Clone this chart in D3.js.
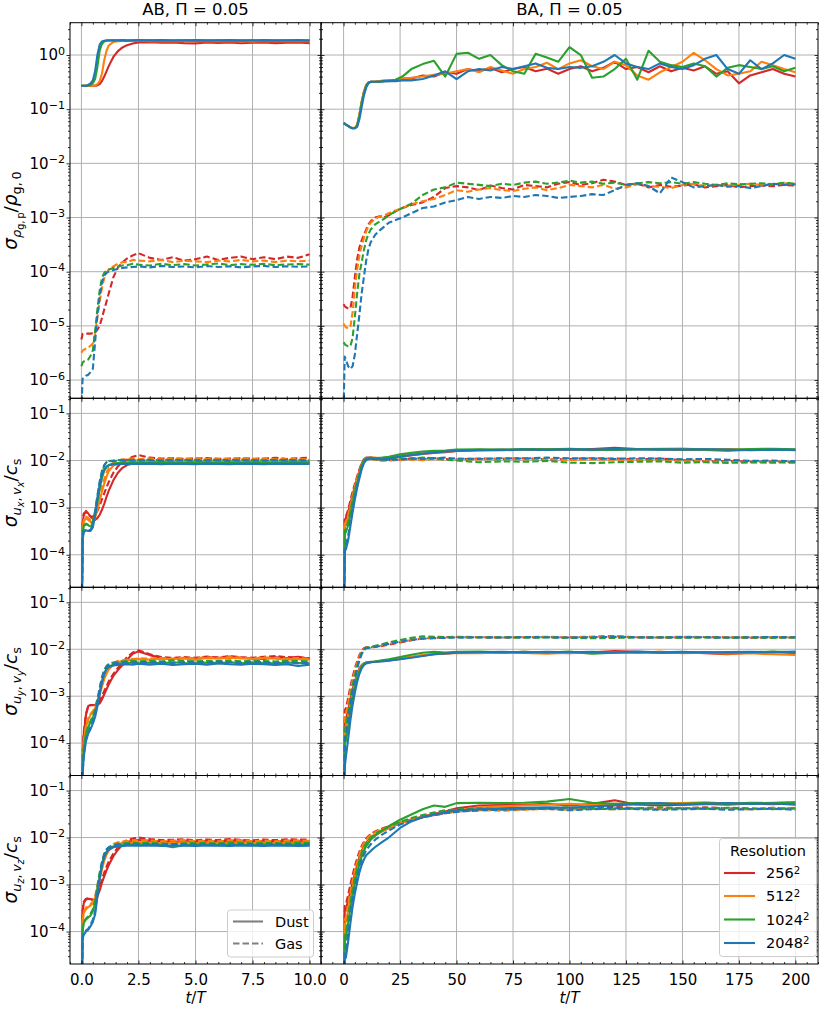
<!DOCTYPE html>
<html>
<head>
  <meta charset="UTF-8">
  <title>sigma-resolution</title>
  <script src="https://cdn.jsdelivr.net/npm/d3@7"></script>
  <style>
    body { margin: 0; background: #fff; }
    text { font-family: "DejaVu Sans", sans-serif; fill: #000; }
  </style>
</head>
<body>
<div id="chart"></div>
<script>
// resolutions and colours (256, 512, 1024, 2048)
const resolutions = ["256", "512", "1024", "2048"];
const colors = ["#d62728", "#ff7f0e", "#2ca02c", "#1f77b4"];
const titles = ["AB, ", "BA, "];
const xTicksAB = [0, 2.5, 5, 7.5, 10];
const xTicksBA = [0, 25, 50, 75, 100, 125, 150, 175, 200];
const yTicksRho = [1, 1e-1, 1e-2, 1e-3, 1e-4, 1e-5, 1e-6];
const yTicksVel = [1e-1, 1e-2, 1e-3, 1e-4];

// time samples
const tAB = [0, 0.05, 0.1, 0.2, 0.3, 0.4, 0.5, 0.6, 0.7, 0.8, 0.9, 1.0, 1.1, 1.2, 1.4, 1.6, 1.8, 2.0, 2.25, 2.5, 3, 3.5, 4, 4.5, 5, 5.5, 6, 6.5, 7, 7.5, 8, 8.5, 9, 9.5, 10];
const tBArho = [0, 0.5, 1, 2, 3, 4, 5, 6, 7, 8, 9, 10, 11, 12, 14, 16, 18, 20, 23, 26, 30, 35, 40, 45, 50, 55, 60, 65, 70, 75, 80, 85, 90, 95, 100, 105, 110, 115, 120, 125, 130, 135, 140, 145, 150, 155, 160, 165, 170, 175, 180, 185, 190, 195, 200];
const tBAvel = [0, 0.5, 1, 2, 3, 4, 5, 6, 7, 8, 9, 10, 12, 14, 17, 20, 25, 30, 35, 40, 45, 50, 60, 70, 80, 90, 100, 110, 120, 130, 140, 150, 160, 170, 180, 190, 200];

// AB, density
const abRhoDust = [
  [0.27,0.27,0.27,0.27,0.27,0.27,0.27,0.27,0.275,0.29,0.33,0.40, 0.50,0.63,0.92,1.18,1.38,1.52,1.63,1.70, 1.72,1.68,1.70,1.66,1.64,1.70,1.67,1.70,1.65,1.69,1.71,1.66,1.68,1.70,1.66],
  [0.27,0.27,0.27,0.27,0.27,0.27,0.27,0.275,0.29,0.33,0.45,0.80, 1.20,1.50,1.75,1.80,1.82,1.82,1.81,1.83, 1.80,1.82,1.79,1.81,1.80,1.82,1.79,1.81,1.80,1.78,1.81,1.80,1.82,1.79,1.80],
  [0.27,0.27,0.27,0.27,0.275,0.28,0.30,0.36,0.60,1.20,1.60,1.78, 1.83,1.85,1.86,1.85,1.86,1.84,1.86,1.85, 1.86,1.84,1.85,1.86,1.84,1.85,1.86,1.84,1.85,1.86,1.84,1.85,1.86,1.85,1.84],
  [0.27,0.27,0.27,0.27,0.28,0.30,0.34,0.50,1.00,1.55,1.78,1.84, 1.86,1.87,1.86,1.87,1.88,1.86,1.87,1.88, 1.87,1.89,1.86,1.87,1.88,1.86,1.87,1.88,1.86,1.87,1.88,1.86,1.87,1.88,1.87]
];
const abRhoGas = [
  [5.6e-6,7.1e-6,7.2e-6,7.2e-6,7.2e-6,7.2e-6,7.3e-6,7.5e-6,8.5e-6,1.0e-5,1.4e-5,2.0e-5, 2.8e-5,4.0e-5,7.9e-5,1.2e-4,1.5e-4,1.75e-4,2.0e-4,2.2e-4, 1.8e-4,1.65e-4,1.85e-4,1.6e-4,1.7e-4,1.9e-4,1.65e-4,1.8e-4,1.9e-4,1.7e-4,1.85e-4,1.7e-4,1.9e-4,1.8e-4,2.1e-4],
  [3.2e-6,3.5e-6,3.6e-6,3.8e-6,4.0e-6,4.3e-6,4.7e-6,7e-6,1.4e-5,2.8e-5,5e-5,7.6e-5, 9.5e-5,1.1e-4,1.25e-4,1.4e-4,1.5e-4,1.5e-4,1.65e-4,1.6e-4, 1.55e-4,1.65e-4,1.5e-4,1.6e-4,1.55e-4,1.5e-4,1.6e-4,1.55e-4,1.65e-4,1.55e-4,1.6e-4,1.5e-4,1.6e-4,1.55e-4,1.6e-4],
  [1.8e-6,2.1e-6,2.2e-6,2.3e-6,2.4e-6,2.8e-6,3.5e-6,8e-6,2e-5,4.5e-5,7.6e-5,9.5e-5, 1.05e-4,1.1e-4,1.17e-4,1.25e-4,1.3e-4,1.32e-4,1.4e-4,1.35e-4, 1.3e-4,1.4e-4,1.32e-4,1.38e-4,1.3e-4,1.36e-4,1.42e-4,1.32e-4,1.38e-4,1.34e-4,1.4e-4,1.32e-4,1.36e-4,1.38e-4,1.35e-4],
  [2.5e-7,1.05e-6,1.1e-6,1.2e-6,1.25e-6,1.4e-6,1.6e-6,5e-6,1.6e-5,3.5e-5,6.3e-5,8.5e-5, 9.5e-5,1.0e-4,1.07e-4,1.12e-4,1.17e-4,1.2e-4,1.22e-4,1.25e-4, 1.2e-4,1.28e-4,1.22e-4,1.25e-4,1.2e-4,1.27e-4,1.22e-4,1.26e-4,1.2e-4,1.25e-4,1.28e-4,1.22e-4,1.26e-4,1.23e-4,1.25e-4]
];

// AB, u_x / v_x
const abUxDust = [
  [1e-6,4e-4,7e-4,8.5e-4,7.5e-4,6.5e-4,5.8e-4,5.5e-4,6e-4,7e-4,9e-4,1.2e-3, 1.7e-3,2.3e-3,3.8e-3,5.5e-3,7e-3,8e-3,8.6e-3,9e-3, 9e-3,9.2e-3,8.9e-3,9.1e-3,9e-3,9.2e-3,8.9e-3,9.1e-3,9e-3,8.8e-3,9.1e-3,9e-3,9.2e-3,8.9e-3,9.2e-3],
  [1e-6,3e-4,5e-4,6e-4,5.5e-4,5e-4,5e-4,6e-4,9e-4,1.4e-3,2.2e-3,3.2e-3, 4.5e-3,6e-3,7.8e-3,8.6e-3,9e-3,9.2e-3,9.3e-3,9.2e-3, 9.3e-3,9.1e-3,9.4e-3,9.2e-3,9.3e-3,9.1e-3,9.3e-3,9.4e-3,9.2e-3,9.3e-3,9.1e-3,9.3e-3,9.2e-3,9.4e-3,9.2e-3],
  [1e-6,2.5e-4,4e-4,4.5e-4,4.2e-4,4e-4,4.5e-4,7e-4,1.3e-3,2.5e-3,4.2e-3,6e-3, 7.3e-3,8e-3,8.6e-3,8.8e-3,8.9e-3,8.8e-3,9e-3,8.9e-3, 8.8e-3,9e-3,8.9e-3,8.8e-3,9e-3,8.9e-3,8.8e-3,9e-3,8.9e-3,9.1e-3,8.9e-3,8.8e-3,9e-3,8.9e-3,9e-3],
  [1e-6,2e-4,3e-4,3.3e-4,3.2e-4,3.2e-4,3.8e-4,7e-4,1.5e-3,3e-3,5e-3,6.5e-3, 7.4e-3,7.9e-3,8.2e-3,8.4e-3,8.5e-3,8.5e-3,8.6e-3,8.5e-3, 8.6e-3,8.4e-3,8.6e-3,8.5e-3,8.4e-3,8.6e-3,8.5e-3,8.4e-3,8.6e-3,8.5e-3,8.4e-3,8.6e-3,8.5e-3,8.6e-3,8.5e-3]
];
const abUxGas = [
  [1e-6,4.5e-4,7.5e-4,8e-4,7e-4,6.5e-4,6.5e-4,7e-4,8.5e-4,1.1e-3,1.5e-3,2e-3, 2.7e-3,3.5e-3,5.5e-3,7.5e-3,9e-3,1.05e-2,1.2e-2,1.3e-2, 1.15e-2,1.1e-2,1.12e-2,1.08e-2,1.1e-2,1.13e-2,1.08e-2,1.1e-2,1.12e-2,1.09e-2,1.1e-2,1.14e-2,1.08e-2,1.12e-2,1.15e-2],
  [1e-6,3.5e-4,5.5e-4,6.5e-4,6e-4,5.5e-4,5.5e-4,7e-4,1.1e-3,1.8e-3,2.8e-3,4e-3, 5.5e-3,7e-3,9e-3,1.0e-2,1.05e-2,1.08e-2,1.1e-2,1.08e-2, 1.1e-2,1.06e-2,1.1e-2,1.08e-2,1.12e-2,1.07e-2,1.1e-2,1.08e-2,1.11e-2,1.07e-2,1.1e-2,1.08e-2,1.06e-2,1.09e-2,1.05e-2],
  [1e-6,2.8e-4,4.2e-4,4.6e-4,4.3e-4,4.2e-4,5e-4,8.5e-4,1.7e-3,3.2e-3,5.5e-3,7.8e-3, 9.2e-3,9.8e-3,1.0e-2,1.02e-2,1.03e-2,1.02e-2,1.04e-2,1.02e-2, 1.03e-2,1.01e-2,1.04e-2,1.02e-2,1.03e-2,1.01e-2,1.03e-2,1.02e-2,1.04e-2,1.02e-2,1.01e-2,1.03e-2,1.02e-2,1.01e-2,1.0e-2],
  [1e-6,2.2e-4,3.2e-4,3.4e-4,3.3e-4,3.4e-4,4.2e-4,8e-4,1.8e-3,3.6e-3,6e-3,8e-3, 9.2e-3,9.6e-3,9.8e-3,9.9e-3,1.0e-2,1.0e-2,1.01e-2,1.0e-2, 1.01e-2,9.9e-3,1.01e-2,1.0e-2,9.9e-3,1.01e-2,1.0e-2,9.9e-3,1.01e-2,1.0e-2,9.9e-3,1.01e-2,1.0e-2,1.01e-2,1.0e-2]
];

// AB, u_y / v_y
const abUyDust = [
  [1e-6,5e-5,1.5e-4,4e-4,6.2e-4,6.5e-4,6.5e-4,6.5e-4,6.5e-4,7e-4,8.5e-4,1.1e-3, 1.4e-3,1.8e-3,2.7e-3,3.6e-3,4.6e-3,6e-3,8e-3,9e-3, 7.5e-3,6.5e-3,6.2e-3,6.5e-3,6.3e-3,6.8e-3,6.5e-3,7e-3,6.6e-3,6.4e-3,6.2e-3,6.7e-3,6.5e-3,6.9e-3,6.3e-3],
  [1e-6,4e-5,1e-4,2.2e-4,3.2e-4,4e-4,4.6e-4,5.5e-4,7.5e-4,1.1e-3,1.6e-3,2.3e-3, 3e-3,3.7e-3,4.7e-3,5.3e-3,5.6e-3,5.8e-3,6e-3,6.2e-3, 6e-3,6.3e-3,6.1e-3,6.4e-3,6e-3,6.5e-3,6.3e-3,6.6e-3,6.4e-3,6.2e-3,6.5e-3,6.3e-3,6e-3,6.2e-3,6e-3],
  [1e-6,3e-5,7e-5,1.5e-4,2.2e-4,2.8e-4,3.5e-4,4.6e-4,7e-4,1.2e-3,2e-3,3e-3, 3.8e-3,4.3e-3,4.7e-3,4.9e-3,5e-3,5.1e-3,5.2e-3,5.0e-3, 5.2e-3,5.0e-3,5.3e-3,5.1e-3,5.0e-3,5.2e-3,5.1e-3,5.3e-3,5.0e-3,5.2e-3,5.1e-3,5.0e-3,5.2e-3,5.1e-3,5.0e-3],
  [1e-6,2e-5,5e-5,1.1e-4,1.6e-4,2e-4,2.6e-4,3.6e-4,6e-4,1.1e-3,2e-3,3e-3, 3.8e-3,4.2e-3,4.5e-3,4.6e-3,4.7e-3,4.8e-3,4.7e-3,4.9e-3, 4.7e-3,4.9e-3,4.6e-3,4.8e-3,4.9e-3,4.7e-3,5.0e-3,4.8e-3,4.7e-3,4.9e-3,4.8e-3,4.6e-3,4.8e-3,4.4e-3,4.7e-3]
];
const abUyGas = [
  [1e-6,6e-5,1.7e-4,4.2e-4,6.2e-4,6.4e-4,6.4e-4,6.5e-4,7e-4,8e-4,1e-3,1.3e-3, 1.6e-3,2.1e-3,3e-3,4e-3,5.2e-3,6.8e-3,8.5e-3,9.5e-3, 7.8e-3,6.8e-3,6.5e-3,6.8e-3,6.6e-3,7e-3,6.7e-3,7.1e-3,6.8e-3,6.6e-3,6.9e-3,7.2e-3,6.8e-3,6.6e-3,6.5e-3],
  [1e-6,4.5e-5,1.1e-4,2.4e-4,3.4e-4,4.2e-4,4.8e-4,6e-4,8.5e-4,1.3e-3,1.9e-3,2.7e-3, 3.5e-3,4.2e-3,5.1e-3,5.6e-3,5.8e-3,6e-3,6.2e-3,6.4e-3, 6.3e-3,6.5e-3,6.3e-3,6.6e-3,6.4e-3,6.7e-3,6.5e-3,6.8e-3,6.6e-3,6.4e-3,6.7e-3,6.5e-3,6.3e-3,6.5e-3,6.2e-3],
  [1e-6,3.5e-5,8e-5,1.6e-4,2.4e-4,3e-4,3.8e-4,5.2e-4,8.5e-4,1.5e-3,2.5e-3,3.6e-3, 4.4e-3,4.9e-3,5.2e-3,5.4e-3,5.5e-3,5.6e-3,5.7e-3,5.5e-3, 5.7e-3,5.5e-3,5.8e-3,5.6e-3,5.5e-3,5.7e-3,5.6e-3,5.8e-3,5.5e-3,5.7e-3,5.6e-3,5.5e-3,5.7e-3,5.6e-3,5.5e-3],
  [1e-6,2.2e-5,5.5e-5,1.2e-4,1.7e-4,2.2e-4,2.9e-4,4.2e-4,7.5e-4,1.4e-3,2.5e-3,3.5e-3, 4.3e-3,4.7e-3,5e-3,5.1e-3,5.2e-3,5.3e-3,5.2e-3,5.4e-3, 5.2e-3,5.4e-3,5.1e-3,5.3e-3,5.4e-3,5.2e-3,5.5e-3,5.3e-3,5.2e-3,5.4e-3,5.3e-3,5.1e-3,5.3e-3,5.0e-3,5.2e-3]
];

// AB, u_z / v_z
const abUzDust = [
  [1e-6,2.5e-4,4e-4,4.8e-4,5e-4,4.9e-4,4.6e-4,4.5e-4,5.5e-4,7.5e-4,1.1e-3,1.5e-3, 2e-3,2.6e-3,4e-3,5.5e-3,7e-3,8e-3,8.5e-3,8.8e-3, 8.5e-3,8.2e-3,8e-3,8.4e-3,8.1e-3,8.5e-3,8.2e-3,8.6e-3,8.3e-3,8.1e-3,8.4e-3,8.2e-3,8.5e-3,8.3e-3,8.3e-3],
  [1e-6,1.5e-4,2.5e-4,3e-4,3.3e-4,3.6e-4,4e-4,5e-4,8e-4,1.3e-3,2.1e-3,3.2e-3, 4.3e-3,5.3e-3,6.6e-3,7.2e-3,7.5e-3,7.6e-3,7.8e-3,7.6e-3, 7.8e-3,7.5e-3,7.7e-3,7.9e-3,7.6e-3,7.8e-3,7.5e-3,7.7e-3,7.9e-3,7.6e-3,7.8e-3,7.5e-3,7.7e-3,7.8e-3,7.6e-3],
  [1e-6,1e-4,1.5e-4,1.8e-4,2e-4,2.2e-4,2.7e-4,4e-4,8e-4,1.5e-3,2.6e-3,3.8e-3, 4.8e-3,5.5e-3,6.3e-3,6.7e-3,6.9e-3,7e-3,7.1e-3,7.0e-3, 7.1e-3,6.9e-3,6.2e-3,6.9e-3,7.1e-3,7.0e-3,6.9e-3,7.1e-3,7.0e-3,6.9e-3,7.1e-3,7.0e-3,6.9e-3,7.1e-3,7.0e-3],
  [1e-6,7e-5,8.5e-5,1e-4,1.1e-4,1.3e-4,1.6e-4,2.3e-4,5.5e-4,1.3e-3,2.6e-3,4e-3, 5e-3,5.6e-3,6.2e-3,6.5e-3,6.6e-3,6.7e-3,6.8e-3,6.7e-3, 6.8e-3,6.6e-3,6.8e-3,6.7e-3,6.6e-3,6.8e-3,6.7e-3,6.6e-3,6.8e-3,6.7e-3,6.6e-3,6.8e-3,6.7e-3,6.6e-3,6.7e-3]
];
const abUzGas = [
  [1e-6,2.8e-4,4.3e-4,5e-4,5.1e-4,5e-4,4.8e-4,4.8e-4,6e-4,8.5e-4,1.3e-3,1.8e-3, 2.4e-3,3.1e-3,4.6e-3,6.2e-3,7.8e-3,8.8e-3,9.5e-3,1.0e-2, 9.3e-3,8.8e-3,9e-3,9.2e-3,8.7e-3,9.1e-3,8.8e-3,9.3e-3,8.9e-3,8.7e-3,9.1e-3,8.8e-3,9.2e-3,9e-3,9.1e-3],
  [1e-6,1.7e-4,2.7e-4,3.2e-4,3.5e-4,3.8e-4,4.3e-4,5.6e-4,9.5e-4,1.6e-3,2.6e-3,3.8e-3, 5e-3,6e-3,7.3e-3,7.9e-3,8.2e-3,8.4e-3,8.6e-3,8.5e-3, 8.7e-3,8.3e-3,8.6e-3,8.8e-3,8.4e-3,8.6e-3,8.3e-3,8.7e-3,8.8e-3,8.4e-3,8.6e-3,8.3e-3,8.6e-3,8.7e-3,8.5e-3],
  [1e-6,1.1e-4,1.6e-4,1.9e-4,2.1e-4,2.4e-4,3e-4,4.6e-4,9.5e-4,1.8e-3,3e-3,4.4e-3, 5.5e-3,6.2e-3,7e-3,7.4e-3,7.5e-3,7.6e-3,7.7e-3,7.6e-3, 7.7e-3,7.5e-3,7.2e-3,7.5e-3,7.7e-3,7.6e-3,7.5e-3,7.7e-3,7.6e-3,7.5e-3,7.7e-3,7.6e-3,7.5e-3,7.7e-3,7.6e-3],
  [1e-6,7.5e-5,9e-5,1.05e-4,1.15e-4,1.4e-4,1.8e-4,2.7e-4,6.5e-4,1.5e-3,3e-3,4.5e-3, 5.6e-3,6.2e-3,6.8e-3,7e-3,7.1e-3,7.2e-3,7.3e-3,7.2e-3, 7.3e-3,7.1e-3,7.3e-3,7.2e-3,7.1e-3,7.3e-3,7.2e-3,7.1e-3,7.3e-3,7.2e-3,7.1e-3,7.3e-3,7.2e-3,7.1e-3,7.2e-3]
];

// BA, density
const baRhoDust = [
  [0.055,0.054,0.052,0.049,0.046,0.045,0.045,0.050,0.078,0.135,0.21,0.28,0.31,0.32,0.32,0.33,0.33,0.34,0.34,0.36,0.37, 0.42,0.40,0.48,0.45, 0.55,0.50,0.58,0.48,0.55,0.60,0.50,0.56,0.45,0.55,0.62,0.50,0.58,0.75,0.55,0.60,0.48,0.62,0.50,0.58,0.52,0.62,0.45,0.50,0.30,0.42,0.48,0.55,0.45,0.40],
  [0.055,0.054,0.052,0.049,0.046,0.045,0.045,0.051,0.080,0.14,0.21,0.28,0.31,0.32,0.32,0.33,0.34,0.34,0.35,0.37,0.38, 0.40,0.43,0.45,0.50, 0.55,0.48,0.60,0.52,0.45,0.55,0.60,0.72,0.55,0.70,0.80,0.62,0.55,0.75,0.65,0.42,0.35,0.48,0.60,0.75,1.10,0.80,0.55,0.42,0.45,0.50,0.75,0.65,0.55,0.48],
  [0.055,0.054,0.052,0.049,0.046,0.045,0.045,0.050,0.076,0.13,0.20,0.27,0.31,0.32,0.32,0.32,0.33,0.33,0.35,0.40,0.55, 0.68,0.78,0.40,1.05, 1.10,0.85,1.00,0.65,0.50,0.45,1.05,0.90,0.75,1.40,1.00,0.38,0.40,0.55,0.85,0.35,1.20,0.75,0.65,0.60,0.70,0.62,0.40,0.58,0.65,0.60,0.55,0.62,0.50,0.58],
  [0.055,0.054,0.052,0.049,0.046,0.044,0.044,0.047,0.065,0.11,0.18,0.25,0.30,0.32,0.32,0.32,0.33,0.33,0.33,0.34,0.34, 0.36,0.42,0.50,0.36, 0.50,0.55,0.52,0.60,0.55,0.62,0.70,0.58,0.55,0.60,0.58,0.62,0.75,1.00,0.70,0.60,0.55,0.70,0.60,0.55,0.65,0.85,1.00,0.55,0.45,0.80,0.55,0.70,1.00,0.85]
];
const baRhoGas = [
  [2.5e-5,2.3e-5,2.2e-5,2.1e-5,2.1e-5,3.5e-5,8e-5,1.7e-4,2.8e-4,3.8e-4,4.8e-4,6e-4,7.5e-4,8.5e-4,1.0e-3,1.05e-3,1.0e-3,1.1e-3,1.3e-3,1.5e-3,1.7e-3, 1.9e-3,2.4e-3,3.5e-3,3.8e-3, 3.6e-3,3.2e-3,3.9e-3,3.5e-3,3.3e-3,4.0e-3,3.8e-3,3.6e-3,4.2e-3,4.5e-3,4.0e-3,4.3e-3,5.0e-3,4.6e-3,4.0e-3,4.2e-3,3.6e-3,4.0e-3,3.7e-3,3.9e-3,4.1e-3,3.6e-3,3.8e-3,4.0e-3,3.6e-3,3.8e-3,3.9e-3,3.8e-3,4.0e-3,3.9e-3],
  [1.1e-5,1.0e-5,9.5e-6,9e-6,9.5e-6,1.8e-5,5e-5,1.1e-4,2.0e-4,3.0e-4,4.2e-4,5.5e-4,7e-4,8e-4,9.5e-4,1.05e-3,1.1e-3,1.2e-3,1.35e-3,1.5e-3,1.75e-3, 2.0e-3,2.2e-3,2.6e-3,3.2e-3, 3.0e-3,3.3e-3,3.5e-3,3.2e-3,3.1e-3,3.4e-3,3.6e-3,3.2e-3,3.5e-3,4.0e-3,3.8e-3,3.6e-3,4.0e-3,3.4e-3,3.6e-3,4.1e-3,3.8e-3,3.7e-3,3.5e-3,4.0e-3,4.2e-3,3.8e-3,4.0e-3,3.9e-3,4.0e-3,4.2e-3,4.0e-3,4.1e-3,4.3e-3,4.2e-3],
  [5e-6,4.6e-6,4.4e-6,4.2e-6,4.2e-6,6e-6,1.5e-5,4e-5,9e-5,1.5e-4,2.5e-4,3.8e-4,5e-4,6e-4,7.5e-4,8.5e-4,9.5e-4,1.1e-3,1.3e-3,1.5e-3,1.8e-3, 2.6e-3,3.3e-3,3.6e-3,4.4e-3, 4.2e-3,4.0e-3,3.8e-3,4.2e-3,4.0e-3,4.4e-3,4.6e-3,4.2e-3,4.4e-3,4.8e-3,4.4e-3,4.6e-3,4.2e-3,4.4e-3,4.0e-3,4.3e-3,4.5e-3,4.3e-3,4.5e-3,4.2e-3,4.5e-3,4.2e-3,4.0e-3,4.3e-3,4.1e-3,4.2e-3,4.3e-3,4.1e-3,4.4e-3,4.2e-3],
  [3e-7,2.7e-6,2.4e-6,1.8e-6,1.6e-6,1.8e-6,3e-6,7e-6,1.6e-5,4e-5,8e-5,1.6e-4,2.6e-4,3.5e-4,4.8e-4,5.8e-4,6.8e-4,8e-4,9e-4,1.0e-3,1.2e-3, 1.5e-3,1.6e-3,1.9e-3,2.1e-3, 2.4e-3,2.2e-3,2.4e-3,2.3e-3,2.5e-3,2.4e-3,2.6e-3,2.5e-3,2.3e-3,2.4e-3,2.5e-3,2.7e-3,2.6e-3,3.2e-3,4.0e-3,4.3e-3,3.8e-3,2.8e-3,5.5e-3,4.5e-3,3.6e-3,3.8e-3,4.0e-3,3.7e-3,3.8e-3,3.5e-3,3.8e-3,4.2e-3,4.0e-3,4.1e-3]
];

// BA, u_x / v_x
const baUxDust = [
  [1e-6,5.5e-4,6e-4,8e-4,1.2e-3,1.9e-3,2.8e-3,4.2e-3,6e-3,8.5e-3,1.05e-2,1.15e-2, 1.15e-2,1.1e-2,1.12e-2,1.1e-2,1.2e-2,1.3e-2,1.38e-2,1.45e-2,1.5e-2,1.6e-2, 1.68e-2,1.65e-2,1.7e-2,1.72e-2,1.68e-2,1.75e-2,1.85e-2,1.75e-2,1.72e-2,1.7e-2,1.68e-2,1.62e-2,1.7e-2,1.72e-2,1.65e-2],
  [1e-6,4e-4,4.5e-4,6e-4,9.5e-4,1.6e-3,2.5e-3,3.8e-3,5.6e-3,8e-3,1.0e-2,1.12e-2, 1.15e-2,1.15e-2,1.1e-2,1.15e-2,1.25e-2,1.32e-2,1.4e-2,1.5e-2,1.55e-2,1.6e-2, 1.65e-2,1.7e-2,1.68e-2,1.72e-2,1.7e-2,1.66e-2,1.72e-2,1.75e-2,1.78e-2,1.8e-2,1.7e-2,1.75e-2,1.68e-2,1.72e-2,1.7e-2],
  [1e-6,2.8e-4,3e-4,4.2e-4,7e-4,1.25e-3,2.1e-3,3.3e-3,5e-3,7.5e-3,9.8e-3,1.1e-2, 1.15e-2,1.12e-2,1.15e-2,1.2e-2,1.35e-2,1.45e-2,1.55e-2,1.6e-2,1.62e-2,1.7e-2, 1.72e-2,1.7e-2,1.75e-2,1.72e-2,1.78e-2,1.7e-2,1.68e-2,1.72e-2,1.75e-2,1.7e-2,1.72e-2,1.68e-2,1.75e-2,1.78e-2,1.72e-2],
  [1e-6,1.2e-4,1.3e-4,2e-4,4e-4,8e-4,1.5e-3,2.6e-3,4.2e-3,6.5e-3,8.8e-3,1.02e-2, 1.1e-2,1.08e-2,1.05e-2,1.1e-2,1.22e-2,1.3e-2,1.4e-2,1.48e-2,1.55e-2,1.6e-2, 1.65e-2,1.68e-2,1.7e-2,1.68e-2,1.72e-2,1.7e-2,1.75e-2,1.72e-2,1.7e-2,1.72e-2,1.74e-2,1.7e-2,1.65e-2,1.7e-2,1.68e-2]
];
const baUxGas = [
  [1e-6,6e-4,6.5e-4,9e-4,1.4e-3,2.2e-3,3.2e-3,4.6e-3,6.5e-3,8.8e-3,1.05e-2,1.12e-2, 1.1e-2,1.05e-2,1.0e-2,1.02e-2,1.05e-2,1.1e-2,1.12e-2,1.1e-2,1.08e-2,1.05e-2, 1.1e-2,1.08e-2,1.12e-2,1.05e-2,1.08e-2,1.12e-2,1.1e-2,1.06e-2,1.1e-2,1.02e-2,9.6e-3,9.8e-3,9.4e-3,9.5e-3,9.2e-3],
  [1e-6,4.5e-4,5e-4,7e-4,1.1e-3,1.8e-3,2.8e-3,4.2e-3,6e-3,8.3e-3,1.0e-2,1.1e-2, 1.08e-2,1.04e-2,1.0e-2,1.0e-2,1.02e-2,1.05e-2,1.02e-2,1.08e-2,1.05e-2,1.02e-2, 1.06e-2,1.1e-2,1.05e-2,1.08e-2,1.02e-2,1.06e-2,1.04e-2,1.02e-2,9.8e-3,1.0e-2,9.6e-3,9.5e-3,9.2e-3,9.4e-3,9.0e-3],
  [1e-6,3.2e-4,3.5e-4,5e-4,8.5e-4,1.45e-3,2.4e-3,3.7e-3,5.5e-3,8e-3,1.0e-2,1.12e-2, 1.1e-2,1.06e-2,1.05e-2,1.08e-2,1.1e-2,1.1e-2,1.15e-2,1.12e-2,1.05e-2,1.0e-2, 9.2e-3,9.6e-3,9.4e-3,9.8e-3,9.0e-3,8.8e-3,9.2e-3,9.4e-3,9.6e-3,9.0e-3,9.2e-3,8.9e-3,9.1e-3,9.0e-3,9.2e-3],
  [1e-6,1.5e-4,1.6e-4,2.5e-4,5e-4,9.5e-4,1.7e-3,2.9e-3,4.6e-3,7e-3,9.2e-3,1.05e-2, 1.1e-2,1.08e-2,1.05e-2,1.03e-2,1.05e-2,1.1e-2,1.08e-2,1.12e-2,1.15e-2,1.1e-2, 1.08e-2,1.12e-2,1.1e-2,1.15e-2,1.12e-2,1.1e-2,1.08e-2,1.12e-2,1.1e-2,1.06e-2,1.08e-2,1.04e-2,9.8e-3,1.0e-2,9.6e-3]
];

// BA, u_y / v_y
const baUyDust = [
  [1e-6,3e-4,3.2e-4,5e-4,8.5e-4,1.4e-3,2.1e-3,3e-3,3.9e-3,4.6e-3,5e-3,5.2e-3, 5.3e-3,5.4e-3,5.6e-3,5.8e-3,6.2e-3,6.8e-3,7.3e-3,7.8e-3,8e-3,8.4e-3, 8.6e-3,8.4e-3,8.8e-3,8.4e-3,8.2e-3,8.6e-3,9.2e-3,8.8e-3,8.5e-3,8.6e-3,8.2e-3,7.8e-3,8.4e-3,8.8e-3,8.2e-3],
  [1e-6,2e-4,2.2e-4,3.8e-4,7e-4,1.2e-3,1.9e-3,2.8e-3,3.7e-3,4.5e-3,5e-3,5.2e-3, 5.3e-3,5.5e-3,5.7e-3,5.9e-3,6.3e-3,6.9e-3,7.5e-3,7.9e-3,8.1e-3,8.3e-3, 8.2e-3,8.5e-3,8.3e-3,8.0e-3,8.4e-3,8.2e-3,8.6e-3,8.3e-3,8.9e-3,8.2e-3,8.4e-3,8.0e-3,8.2e-3,7.8e-3,7.6e-3],
  [1e-6,1e-4,1.1e-4,2.2e-4,4.8e-4,9.5e-4,1.6e-3,2.5e-3,3.4e-3,4.3e-3,4.9e-3,5.2e-3, 5.4e-3,5.5e-3,5.8e-3,6.1e-3,6.8e-3,7.6e-3,8.4e-3,8.8e-3,8.5e-3,8.8e-3, 8.9e-3,8.6e-3,8.8e-3,8.5e-3,8.9e-3,8.0e-3,8.4e-3,8.6e-3,8.3e-3,8.5e-3,8.7e-3,8.4e-3,8.6e-3,8.9e-3,8.6e-3],
  [1e-6,3e-5,5e-5,1.2e-4,3e-4,6.5e-4,1.2e-3,2e-3,3e-3,3.9e-3,4.6e-3,5e-3, 5.3e-3,5.4e-3,5.5e-3,5.7e-3,6.1e-3,6.6e-3,7.2e-3,7.8e-3,8.1e-3,8.4e-3, 8.6e-3,8.8e-3,8.5e-3,8.8e-3,8.6e-3,8.8e-3,8.5e-3,8.9e-3,8.6e-3,8.8e-3,8.5e-3,8.7e-3,8.8e-3,8.6e-3,8.9e-3]
];
const baUyGas = [
  [1e-6,5e-4,5.5e-4,9e-4,1.6e-3,2.6e-3,3.9e-3,5.5e-3,7.5e-3,9.2e-3,1.05e-2,1.1e-2, 1.1e-2,1.12e-2,1.18e-2,1.25e-2,1.4e-2,1.55e-2,1.7e-2,1.75e-2,1.8e-2,1.82e-2, 1.8e-2,1.78e-2,1.8e-2,1.82e-2,1.8e-2,1.85e-2,1.9e-2,1.8e-2,1.78e-2,1.8e-2,1.82e-2,1.8e-2,1.76e-2,1.8e-2,1.78e-2],
  [1e-6,3.5e-4,4e-4,7e-4,1.3e-3,2.2e-3,3.4e-3,5e-3,7e-3,8.8e-3,1.02e-2,1.08e-2, 1.1e-2,1.15e-2,1.22e-2,1.3e-2,1.45e-2,1.6e-2,1.72e-2,1.8e-2,1.82e-2,1.85e-2, 1.82e-2,1.8e-2,1.82e-2,1.85e-2,1.8e-2,1.82e-2,1.78e-2,1.82e-2,1.8e-2,1.85e-2,1.82e-2,1.8e-2,1.78e-2,1.8e-2,1.82e-2],
  [1e-6,2e-4,2.3e-4,4.5e-4,9e-4,1.7e-3,2.8e-3,4.4e-3,6.4e-3,8.4e-3,1.0e-2,1.08e-2, 1.12e-2,1.18e-2,1.28e-2,1.4e-2,1.58e-2,1.75e-2,1.88e-2,1.85e-2,1.82e-2,1.8e-2, 1.78e-2,1.8e-2,1.76e-2,1.78e-2,1.75e-2,1.72e-2,1.75e-2,1.78e-2,1.8e-2,1.75e-2,1.78e-2,1.76e-2,1.78e-2,1.75e-2,1.78e-2],
  [1e-6,1.2e-4,1.5e-4,3e-4,6.5e-4,1.3e-3,2.3e-3,3.8e-3,5.8e-3,7.8e-3,9.5e-3,1.05e-2, 1.08e-2,1.12e-2,1.2e-2,1.3e-2,1.45e-2,1.58e-2,1.68e-2,1.72e-2,1.75e-2,1.78e-2, 1.8e-2,1.78e-2,1.82e-2,1.8e-2,1.78e-2,1.8e-2,1.84e-2,1.8e-2,1.78e-2,1.82e-2,1.8e-2,1.78e-2,1.8e-2,1.82e-2,1.8e-2]
];

// BA, u_z / v_z
const baUzDust = [
  [1e-6,2.8e-4,3e-4,4.5e-4,7e-4,1.1e-3,1.7e-3,2.6e-3,3.8e-3,5.2e-3,6.5e-3,7.8e-3, 1.0e-2,1.15e-2,1.35e-2,1.6e-2,2.0e-2,2.4e-2,2.8e-2,3.2e-2,3.6e-2,4.2e-2, 4.8e-2,4.9e-2,5.0e-2,5.2e-2,4.8e-2,5.2e-2,6.2e-2,5.0e-2,4.8e-2,5.0e-2,5.2e-2,5.0e-2,5.3e-2,5.1e-2,5.3e-2],
  [1e-6,1.4e-4,1.6e-4,2.8e-4,5e-4,8.5e-4,1.4e-3,2.2e-3,3.3e-3,4.6e-3,6e-3,7.3e-3, 9.5e-3,1.12e-2,1.35e-2,1.6e-2,2.0e-2,2.4e-2,2.7e-2,3.1e-2,3.4e-2,3.8e-2, 4.4e-2,4.6e-2,4.8e-2,5.0e-2,5.2e-2,5.0e-2,5.2e-2,5.0e-2,5.3e-2,5.4e-2,5.6e-2,5.3e-2,5.4e-2,5.5e-2,5.6e-2],
  [1e-6,6e-5,7e-5,1.5e-4,3.2e-4,6e-4,1.05e-3,1.7e-3,2.7e-3,3.9e-3,5.2e-3,6.5e-3, 9e-3,1.1e-2,1.4e-2,1.75e-2,2.4e-2,3.1e-2,4.0e-2,4.8e-2,4.5e-2,5.4e-2, 5.5e-2,5.4e-2,5.5e-2,5.8e-2,6.6e-2,5.5e-2,5.2e-2,5.4e-2,5.3e-2,5.2e-2,5.4e-2,5.2e-2,5.5e-2,5.4e-2,5.6e-2],
  [1e-6,2.6e-5,2.8e-5,6e-5,1.5e-4,3.4e-4,6.5e-4,1.1e-3,1.8e-3,2.6e-3,3.4e-3,4.2e-3, 5.2e-3,6.3e-3,8e-3,1.0e-2,1.6e-2,2.2e-2,2.7e-2,3.1e-2,3.4e-2,3.8e-2, 4.0e-2,4.2e-2,4.3e-2,4.4e-2,4.3e-2,4.6e-2,4.8e-2,5.2e-2,5.4e-2,5.0e-2,5.2e-2,5.4e-2,5.2e-2,5.3e-2,5.0e-2]
];
const baUzGas = [
  [1e-6,3.5e-4,3.8e-4,6e-4,1e-3,1.6e-3,2.5e-3,3.6e-3,5e-3,6.6e-3,8.2e-3,9.5e-3, 1.2e-2,1.35e-2,1.55e-2,1.75e-2,2.1e-2,2.4e-2,2.7e-2,3.0e-2,3.3e-2,3.6e-2, 3.8e-2,4.0e-2,4.2e-2,4.0e-2,4.1e-2,4.3e-2,4.5e-2,4.2e-2,4.0e-2,4.2e-2,4.4e-2,4.2e-2,4.0e-2,4.3e-2,4.1e-2],
  [1e-6,1.8e-4,2e-4,3.8e-4,7e-4,1.2e-3,2e-3,3e-3,4.4e-3,6e-3,7.6e-3,9e-3, 1.15e-2,1.3e-2,1.5e-2,1.72e-2,2.1e-2,2.45e-2,2.8e-2,3.1e-2,3.4e-2,3.6e-2, 3.9e-2,3.7e-2,3.9e-2,4.1e-2,3.9e-2,4.1e-2,4.0e-2,4.2e-2,4.1e-2,4.3e-2,4.1e-2,4.2e-2,4.0e-2,4.2e-2,4.3e-2],
  [1e-6,8e-5,9e-5,2e-4,4.2e-4,8e-4,1.4e-3,2.2e-3,3.3e-3,4.7e-3,6.2e-3,7.6e-3, 1.0e-2,1.2e-2,1.45e-2,1.7e-2,2.15e-2,2.6e-2,3.0e-2,3.4e-2,3.8e-2,4.0e-2, 4.2e-2,4.0e-2,4.1e-2,4.2e-2,4.4e-2,4.1e-2,4.0e-2,4.2e-2,4.4e-2,4.2e-2,4.1e-2,4.3e-2,4.2e-2,4.0e-2,4.2e-2],
  [1e-6,3.5e-5,4e-5,9e-5,2.2e-4,4.8e-4,9e-4,1.5e-3,2.3e-3,3.3e-3,4.3e-3,5.4e-3, 7.2e-3,9e-3,1.15e-2,1.4e-2,1.9e-2,2.3e-2,2.7e-2,3.0e-2,3.3e-2,3.5e-2, 3.8e-2,3.9e-2,4.0e-2,4.1e-2,3.8e-2,4.0e-2,4.2e-2,4.0e-2,3.9e-2,4.0e-2,4.1e-2,3.9e-2,4.0e-2,4.1e-2,3.9e-2]
];

// ---------------------------------------------------------------
const width = 830, height = 1009;
const cols = [[70, 321], [321, 818]];
const rowEdges = [22.7, 398.3, 587.3, 775.5, 964];
const xDomains = [[-0.5, 10.5], [-10, 210]];
const yDomains = [[4.6e-7, 3.95], [2.04e-5, 0.209], [2.04e-5, 0.209], [2.04e-5, 0.209]];
const tickFont = 15, labelFont = 18.5, legendFont = 14.5;
const lineW = 2.1, dash = "6.5,3";

const panels = [
  { row: 0, col: 0, t: tAB, dust: abRhoDust, gas: abRhoGas },
  { row: 1, col: 0, t: tAB, dust: abUxDust, gas: abUxGas },
  { row: 2, col: 0, t: tAB, dust: abUyDust, gas: abUyGas },
  { row: 3, col: 0, t: tAB, dust: abUzDust, gas: abUzGas },
  { row: 0, col: 1, t: tBArho, dust: baRhoDust, gas: baRhoGas },
  { row: 1, col: 1, t: tBAvel, dust: baUxDust, gas: baUxGas },
  { row: 2, col: 1, t: tBAvel, dust: baUyDust, gas: baUyGas },
  { row: 3, col: 1, t: tBAvel, dust: baUzDust, gas: baUzGas }
];

// y labels: [text, style, level]
const yLabels = [
  [["σ","i",0],["ρ","i",1],["g,\u2009p","n",2],["/","n",0],["ρ","i",0],["g,\u20090","n",1]],
  [["σ","i",0],["u","i",1],["x","i",2],[",\u2009","n",1],["v","i",1],["x","i",2],["/","n",0],["c","i",0],["s","n",1]],
  [["σ","i",0],["u","i",1],["y","i",2],[",\u2009","n",1],["v","i",1],["y","i",2],["/","n",0],["c","i",0],["s","n",1]],
  [["σ","i",0],["u","i",1],["z","i",2],[",\u2009","n",1],["v","i",1],["z","i",2],["/","n",0],["c","i",0],["s","n",1]]
];

const svg = d3.select("#chart").append("svg")
  .attr("width", width)
  .attr("height", height)
  .style("background", "#fff");

function styleAxis(sel) {
  sel.select(".domain").remove();
  sel.attr("font-family", '"DejaVu Sans", sans-serif').attr("font-size", tickFont);
  sel.selectAll(".tick line").attr("stroke", "#000").attr("stroke-width", 0.8);
}

function logMinor(domain) {
  const out = [];
  const lo = Math.floor(Math.log10(domain[0])), hi = Math.ceil(Math.log10(domain[1]));
  for (let d = lo; d <= hi; d++) {
    for (let k = 2; k <= 9; k++) {
      const v = k * Math.pow(10, d);
      if (v >= domain[0] && v <= domain[1]) out.push(v);
    }
  }
  return out;
}

function powLabel(d) {
  const e = Math.round(Math.log10(d));
  const t = d3.select(this).text(null);
  t.append("tspan").text("10");
  t.append("tspan").attr("dy", "-0.5em").attr("font-size", "0.74em")
    .text(e < 0 ? "\u2212" + (-e) : String(e));
}

function mathText(parent, parts, size) {
  const sizes = [size, size * 0.7, size * 0.52];
  const shifts = [0, size * 0.24, size * 0.4];
  let cur = 0;
  parts.forEach(([s, style, lvl]) => {
    parent.append("tspan")
      .attr("dy", shifts[lvl] - cur)
      .attr("font-size", sizes[lvl])
      .attr("font-style", style === "i" ? "italic" : "normal")
      .text(s);
    cur = shifts[lvl];
  });
}

panels.forEach((p, pi) => {
  const x = d3.scaleLinear().domain(xDomains[p.col]).range(cols[p.col]);
  const y = d3.scaleLog().domain(yDomains[p.row]).range([rowEdges[p.row + 1], rowEdges[p.row]]);
  const [x0, x1] = cols[p.col];
  const yTop = rowEdges[p.row], yBot = rowEdges[p.row + 1];
  const g = svg.append("g");

  const xMaj = p.col === 0 ? xTicksAB : xTicksBA;
  const yMaj = (p.row === 0 ? yTicksRho : yTicksVel).filter(v => v >= y.domain()[0] && v <= y.domain()[1]);

  // grid
  g.append("g").selectAll("line").data(xMaj).join("line")
    .attr("x1", d => x(d)).attr("x2", d => x(d)).attr("y1", yTop).attr("y2", yBot)
    .attr("stroke", "#b0b0b0").attr("stroke-width", 1);
  g.append("g").selectAll("line").data(yMaj).join("line")
    .attr("x1", x0).attr("x2", x1).attr("y1", d => y(d)).attr("y2", d => y(d))
    .attr("stroke", "#b0b0b0").attr("stroke-width", 1);

  // series
  const clipId = "clip" + pi;
  svg.append("clipPath").attr("id", clipId).append("rect")
    .attr("x", x0).attr("y", yTop).attr("width", x1 - x0).attr("height", yBot - yTop);
  const lines = g.append("g").attr("clip-path", `url(#${clipId})`);
  const line = d3.line()
    .defined((d, i) => i < p.t.length)
    .x((d, i) => x(p.t[i]))
    .y(d => y(d));
  resolutions.forEach((r, ri) => {
    lines.append("path").attr("d", line(p.dust[ri]))
      .attr("fill", "none").attr("stroke", colors[ri]).attr("stroke-width", lineW)
      .attr("stroke-linejoin", "round");
    lines.append("path").attr("d", line(p.gas[ri]))
      .attr("fill", "none").attr("stroke", colors[ri]).attr("stroke-width", lineW)
      .attr("stroke-dasharray", dash).attr("stroke-linejoin", "round");
  });

  // x axes (ticks inward on both sides)
  const xMin = (p.col === 0 ? d3.range(-0.5, 10.51, 0.5) : d3.range(-10, 210.1, 5))
    .filter(v => !xMaj.some(m => Math.abs(m - v) < 1e-9));
  const xFmt = p.row === 3 ? (p.col === 0 ? d3.format(".1f") : d3.format("d")) : () => "";
  g.append("g").attr("transform", `translate(0,${yBot})`)
    .call(d3.axisBottom(x).tickValues(xMaj).tickSize(-3.5).tickPadding(10).tickFormat(xFmt)).call(styleAxis);
  g.append("g").attr("transform", `translate(0,${yBot})`)
    .call(d3.axisBottom(x).tickValues(xMin).tickSize(-2).tickFormat("")).call(styleAxis);
  g.append("g").attr("transform", `translate(0,${yTop})`)
    .call(d3.axisTop(x).tickValues(xMaj).tickSize(-3.5).tickFormat("")).call(styleAxis);
  g.append("g").attr("transform", `translate(0,${yTop})`)
    .call(d3.axisTop(x).tickValues(xMin).tickSize(-2).tickFormat("")).call(styleAxis);

  // y axes
  const yMin = logMinor(y.domain());
  if (p.col === 0) {
    g.append("g").attr("transform", `translate(${x0},0)`)
      .call(d3.axisLeft(y).tickValues(yMaj).tickSize(3.5).tickPadding(1.5)).call(styleAxis)
      .selectAll(".tick text").each(powLabel);
    g.append("g").attr("transform", `translate(${x0},0)`)
      .call(d3.axisLeft(y).tickValues(yMin).tickSize(2).tickFormat("")).call(styleAxis);
  } else {
    g.append("g").attr("transform", `translate(${x0},0)`)
      .call(d3.axisLeft(y).tickValues(yMaj).tickSize(-3.5).tickFormat("")).call(styleAxis);
    g.append("g").attr("transform", `translate(${x0},0)`)
      .call(d3.axisLeft(y).tickValues(yMin).tickSize(-2).tickFormat("")).call(styleAxis);
  }
  g.append("g").attr("transform", `translate(${x1},0)`)
    .call(d3.axisRight(y).tickValues(yMaj).tickSize(-3.5).tickFormat("")).call(styleAxis);
  g.append("g").attr("transform", `translate(${x1},0)`)
    .call(d3.axisRight(y).tickValues(yMin).tickSize(-2).tickFormat("")).call(styleAxis);

  // spines
  g.append("rect").attr("x", x0).attr("y", yTop).attr("width", x1 - x0).attr("height", yBot - yTop)
    .attr("fill", "none").attr("stroke", "#000").attr("stroke-width", 1);

  // titles, labels
  const cx = (x0 + x1) / 2;
  if (p.row === 0) {
    svg.append("text").attr("x", cx).attr("y", 14.5).attr("text-anchor", "middle")
      .attr("font-size", 16.5).text(titles[p.col] + "Π = 0.05");
  }
  if (p.row === 3) {
    const tl = svg.append("text").attr("x", cx).attr("y", 1003).attr("text-anchor", "middle")
      .attr("font-size", tickFont);
    tl.append("tspan").attr("font-style", "italic").text("t");
    tl.append("tspan").text("/");
    tl.append("tspan").attr("font-style", "italic").text("T");
  }
  if (p.col === 0) {
    const yl = svg.append("text")
      .attr("transform", `translate(17,${(yTop + yBot) / 2}) rotate(-90)`)
      .attr("text-anchor", "middle").attr("font-size", labelFont);
    mathText(yl, yLabels[p.row], labelFont);
  }
});

// legend: Dust / Gas
const lg1 = svg.append("g");
lg1.append("rect").attr("x", 227.5).attr("y", 910).attr("width", 86).attr("height", 47).attr("rx", 3)
  .attr("fill", "#fff").attr("fill-opacity", 0.8).attr("stroke", "#cccccc").attr("stroke-width", 1);
[["Dust", null, 921.5], ["Gas", dash, 943.5]].forEach(([lab, da, yy]) => {
  lg1.append("line").attr("x1", 233).attr("x2", 263).attr("y1", yy).attr("y2", yy)
    .attr("stroke", "#808080").attr("stroke-width", lineW).attr("stroke-dasharray", da);
  lg1.append("text").attr("x", 275).attr("y", yy).attr("dy", "0.36em").attr("font-size", legendFont).text(lab);
});

// legend: Resolution
const lg2 = svg.append("g");
lg2.append("rect").attr("x", 719.5).attr("y", 838.5).attr("width", 97).attr("height", 118).attr("rx", 3)
  .attr("fill", "#fff").attr("fill-opacity", 0.8).attr("stroke", "#cccccc").attr("stroke-width", 1);
lg2.append("text").attr("x", 768).attr("y", 850.5).attr("dy", "0.36em").attr("text-anchor", "middle")
  .attr("font-size", legendFont).text("Resolution");
const legY = [873, 896, 919.5, 943];
resolutions.forEach((r, ri) => {
  lg2.append("line").attr("x1", 724).attr("x2", 755).attr("y1", legY[ri]).attr("y2", legY[ri])
    .attr("stroke", colors[ri]).attr("stroke-width", lineW);
  const tx = lg2.append("text").attr("x", 766).attr("y", legY[ri]).attr("dy", "0.36em").attr("font-size", legendFont);
  tx.append("tspan").text(r);
  tx.append("tspan").attr("dy", "-0.45em").attr("font-size", "0.7em").text("2");
});
</script>
</body>
</html>
